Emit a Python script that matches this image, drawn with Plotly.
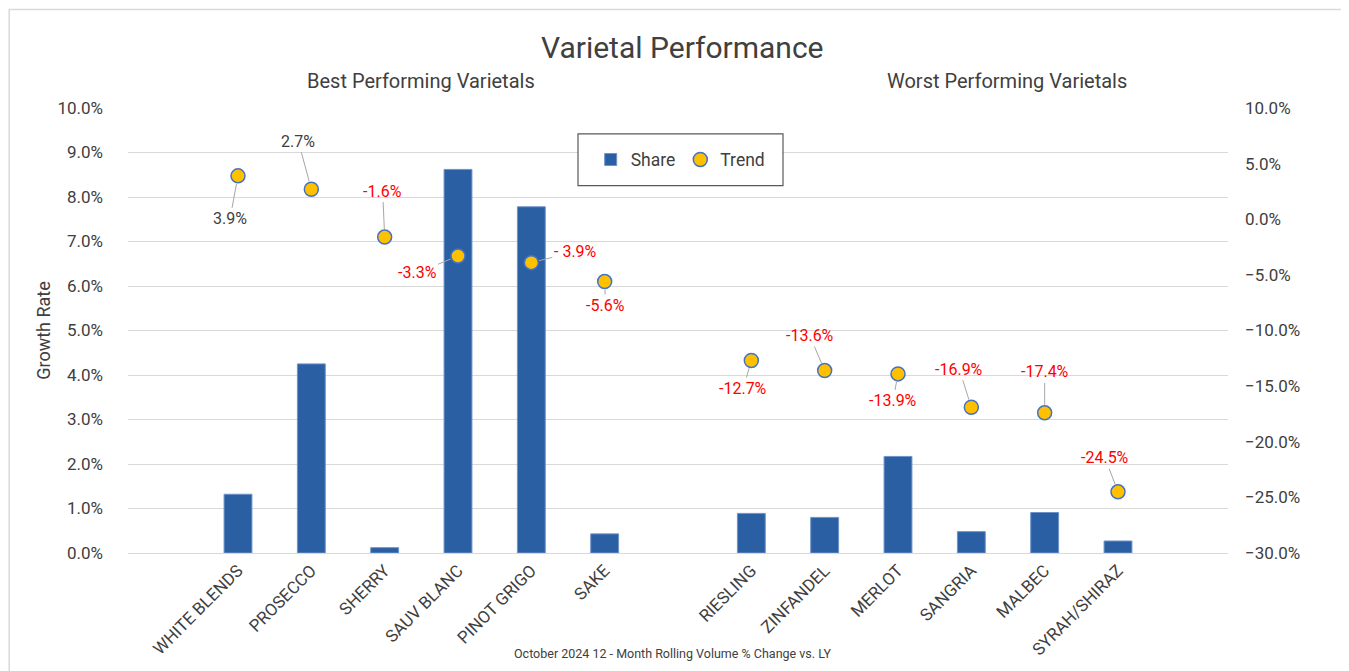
import plotly.graph_objects as go

# data
best = ["WHITE BLENDS", "PROSECCO", "SHERRY", "SAUV BLANC", "PINOT GRIGO", "SAKE"]
worst = ["RIESLING", "ZINFANDEL", "MERLOT", "SANGRIA", "MALBEC", "SYRAH/SHIRAZ"]
best_share = [1.32, 4.25, 0.12, 8.62, 7.78, 0.43]
worst_share = [0.89, 0.80, 2.17, 0.48, 0.91, 0.27]
best_trend = [3.9, 2.7, -1.6, -3.3, -3.9, -5.6]
worst_trend = [-12.7, -13.6, -13.9, -16.9, -17.4, -24.5]
best_labels = ["3.9%", "2.7%", "-1.6%", "-3.3%", "- 3.9%", "-5.6%"]
worst_labels = ["-12.7%", "-13.6%", "-13.9%", "-16.9%", "-17.4%", "-24.5%"]

# empty slots separate the two groups
cats = [""] + best + [" "] + worst + ["  "]
share = [None] + best_share + [None] + worst_share + [None]
trend = [None] + best_trend + [None] + worst_trend + [None]
labels = [None] + best_labels + [None] + worst_labels + [None]

# label offsets (px) for the leader lines
offsets = [None, (-8, 43), (-13, -48), (-2, -46), (-41, 17), (44, -11), (1, 24),
           None, (-8, 28), (-15, -35), (-5, 27), (-12, -38), (0, -41), (-13, -34), None]

FONT = "Roboto, Liberation Sans, sans-serif"
DARK = "#404040"

fig = go.Figure()
fig.add_trace(go.Bar(x=cats, y=share, name="Share", width=0.38,
                     marker=dict(color="#2A5FA4", line=dict(color="#6F93C8", width=1))))
fig.add_trace(go.Scatter(x=cats, y=trend, name="Trend", mode="markers", yaxis="y2",
                         marker=dict(size=14, color="#FFC000",
                                     line=dict(color="#4472C4", width=1.5))))

annotations = []
for c, v, t, off in zip(cats, trend, labels, offsets):
    if v is None:
        continue
    annotations.append(dict(
        x=c, y=v, xref="x", yref="y2", text=t, showarrow=True, arrowhead=0,
        arrowwidth=1, arrowcolor="#A6A6A6", ax=off[0], ay=off[1], standoff=8,
        font=dict(family=FONT, size=16, color="#FF0000" if v < 0 else DARK)))


def note(x, y, text, size, **kw):
    return dict(xref="paper", yref="paper", x=x, y=y, text=text, showarrow=False,
                xanchor="center", yanchor="middle",
                font=dict(family=FONT, size=size, color=DARK), **kw)


annotations += [
    note(0.504, 1.136, "Varietal Performance", 30),
    note(0.266, 1.060, "Best Performing Varietals", 20),
    note(0.799, 1.060, "Worst Performing Varietals", 20),
    note(-0.077, 0.5, "Growth Rate", 18, textangle=-90),
    note(0.495, -0.226, "October 2024 12 - Month Rolling Volume % Change vs. LY", 12.5),
]

fig.update_layout(
    width=1341, height=663,
    margin=dict(l=120, r=121, t=100, b=116),
    paper_bgcolor="white", plot_bgcolor="white",
    font=dict(family=FONT, color=DARK),
    showlegend=True,
    legend=dict(orientation="h", x=0.502, y=0.884, xanchor="center", yanchor="middle",
                bgcolor="rgba(0,0,0,0)", borderwidth=0,
                font=dict(family=FONT, size=17.5, color=DARK)),
    annotations=annotations,
    xaxis=dict(type="category", range=[-0.5, 14.5], tickangle=-45,
               tickfont=dict(family=FONT, size=17, color=DARK),
               showline=True, linecolor="#D9D9D9", showgrid=False),
    yaxis=dict(range=[0, 10], dtick=1, ticksuffix="%", tickformat=".1f",
               tickfont=dict(family=FONT, size=17, color=DARK),
               gridcolor="#D9D9D9", zeroline=False, ticklabelstandoff=24),
    yaxis2=dict(range=[-30, 10], dtick=5, ticksuffix="%", tickformat=".1f",
                overlaying="y", side="right", showgrid=False, zeroline=False,
                tickfont=dict(family=FONT, size=17, color=DARK), ticklabelstandoff=16),
    shapes=[
        # outer chart border
        dict(type="rect", xref="paper", yref="paper",
             x0=-0.108, x1=1.108, y0=-0.3, y1=1.2215,
             line=dict(color="#D9D9D9", width=1.5), layer="below"),
        # legend box
        dict(type="rect", xref="paper", yref="paper",
             x0=(578 - 128) / 1100, x1=(783 - 128) / 1100,
             y0=(555 - 186) / 447, y1=(555 - 134) / 447,
             line=dict(color="#595959", width=1.2), fillcolor="white", layer="above"),
    ],
)

fig.write_html("out.html")
